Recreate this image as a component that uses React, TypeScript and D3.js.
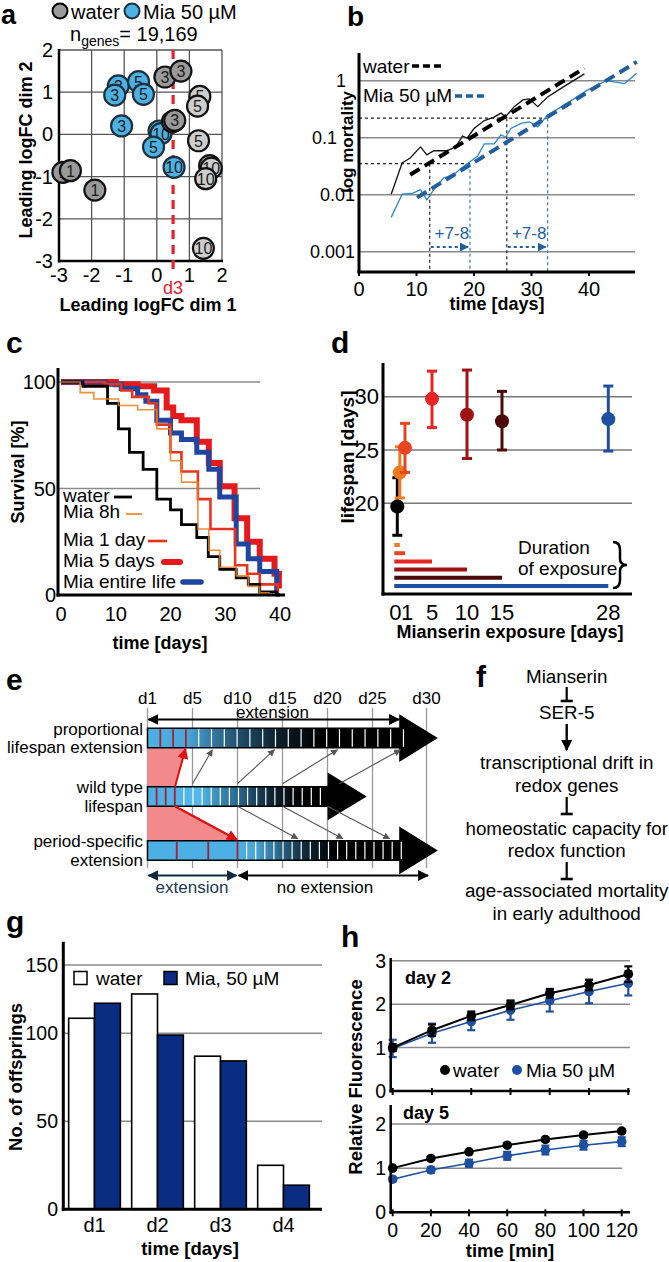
import React, { useEffect, useRef } from "react";
import * as d3 from "d3";

const FF = "'Liberation Sans', Arial, Helvetica, sans-serif";

// ---------- Panel a ----------
const aTicks = [-3, -2, -1, 0, 1, 2];
const aWater = [
  { x: -2.88, y: -0.9, d: 1 }, { x: -2.65, y: -0.86, d: 1 }, { x: -1.9, y: -1.32, d: 1 },
  { x: 0.25, y: 1.36, d: 3 }, { x: 0.74, y: 1.5, d: 3 }, { x: 0.48, y: 0.3, d: 3 }, { x: 0.55, y: 0.33, d: 3 },
  { x: 1.32, y: 0.9, d: 5 }, { x: 1.25, y: 0.67, d: 5 }, { x: 1.28, y: -0.15, d: 5 },
  { x: 1.62, y: -0.74, d: 10 }, { x: 1.67, y: -0.8, d: 10 }, { x: 1.5, y: -1.05, d: 10 }, { x: 1.43, y: -2.7, d: 10 },
];
const aMia = [
  { x: -1.18, y: 1.15, d: 3 }, { x: -1.29, y: 0.93, d: 3 }, { x: -1.08, y: 0.2, d: 3 },
  { x: -0.56, y: 1.25, d: 5 }, { x: -0.41, y: 0.95, d: 5 },
  { x: 0.07, y: 0.08, d: 10 }, { x: 0.13, y: 0.02, d: 10 }, { x: -0.1, y: -0.3, d: 5 },
  { x: 0.53, y: -0.78, d: 10 },
];

// ---------- Panel b ----------
const bXTicks = [0, 10, 20, 30, 40];
const bYTicks = [1, 0.1, 0.01, 0.001];
const bYTickLabels = ["1", "0.1", "0.01", "0.001"];
const bWater = [[5.6, 0.0102], [7.5, 0.036], [8.9, 0.044], [10.7, 0.069], [11.8, 0.05], [13, 0.059], [15.3, 0.059], [16.8, 0.069], [18, 0.107], [18.8, 0.098], [20, 0.145], [21.8, 0.2], [23.5, 0.23], [24.7, 0.27], [25.5, 0.234], [27, 0.35], [28.5, 0.46], [29.6, 0.48], [31.1, 0.35], [32.8, 0.52], [35.2, 0.74], [39.2, 1.32]];
const bMia = [[5.6, 0.004], [7.5, 0.0102], [9.2, 0.0105], [10.7, 0.0123], [11.8, 0.0081], [13, 0.0123], [14.7, 0.0195], [16.5, 0.0224], [17.4, 0.027], [18.8, 0.035], [20.6, 0.047], [21.8, 0.078], [23.5, 0.078], [24.7, 0.112], [25.5, 0.102], [26.4, 0.145], [28.2, 0.178], [29.6, 0.19], [31.1, 0.155], [32.8, 0.25], [34.6, 0.32], [37.5, 0.49], [39.8, 0.69], [43, 1.0], [46.2, 0.89], [48.3, 1.35]];
const bWaterFit = [[8.9, 0.0224], [39.2, 1.66]];
const bMiaFit = [[10.1, 0.0089], [48.3, 2.14]];
const bRefLevels = [0.035, 0.22];
const bRefWaterDays = [12.3, 25.7];
const bRefMiaDays = [19.3, 32.8];
const bShiftLabel = "+7-8";

// ---------- Panel c ----------
const cXTicks = [0, 10, 20, 30, 40];
const cYTicks = [0, 50, 100];
const cWater = [[0, 100], [4, 98], [8.5, 90], [10.5, 78], [12.5, 67], [15, 59], [17.5, 45], [20, 40], [22, 33], [24.8, 27], [26.9, 18], [29, 12], [32, 8], [34.2, 5], [36.3, 1.5], [39.4, 0], [40, 0]];
const cMia8h = [[0, 100], [3.5, 95], [6, 92], [10.5, 89], [14, 87], [17.5, 78], [20, 63], [22, 53], [25, 31], [27, 21], [29, 13], [32, 9], [34.2, 4], [36.3, 1], [38, 0], [39.4, 0]];
const cMia1d = [[0, 100], [8, 99], [11, 96], [13, 93], [16, 90], [17.5, 80], [20, 67], [22, 58], [25, 45], [27.3, 31], [31.8, 14], [34, 10], [36.3, 5], [39.6, 0], [39.8, 0]];
const cMia5d = [[0, 100], [10, 99], [14, 98], [17, 96], [19.3, 88], [20.5, 84], [22, 82], [24.8, 72], [27, 62], [29, 51], [31.7, 36], [34, 25], [36.3, 17], [39, 10], [39.8, 3], [39.8, 3]];
const cMiaLife = [[0, 100], [8, 99], [11, 97], [14, 94], [15.5, 91], [17.5, 82], [20, 76], [22, 73], [24.8, 67], [27, 59], [29, 46], [32, 24], [34.2, 17], [36.3, 11], [39.4, 3], [39.6, 3]];
const cLegend = ["water", "Mia 8h", "Mia 1 day", "Mia 5 days", "Mia entire life"];

// ---------- Panel d ----------
const dGroups = ["water", "8h", "1d", "5d", "10d", "15d", "life"];
const dExposure = [0, 0.33, 1, 5, 10, 15, 28];
const dMean = [19.7, 22.9, 25.2, 29.8, 28.3, 27.7, 27.9];
const dLow = [17.0, 20.5, 22.9, 27.1, 24.2, 25.0, 24.9];
const dHigh = [22.4, 25.3, 27.5, 32.4, 32.5, 30.5, 31.0];
const dXTicks = [0, 1, 5, 10, 15, 28];
const dYTicks = [20, 25, 30];

// ---------- Panel e ----------
const eTickLabels = ["d1", "d5", "d10", "d15", "d20", "d25", "d30"];
const eTickUnits = [0, 5, 10, 15, 20, 25, 31];
const eRowLabels = [["proportional", "lifespan extension"], ["wild type", "lifespan"], ["period-specific", "extension"]];

// ---------- Panel f ----------
const fSteps = [["Mianserin"], ["SER-5"], ["transcriptional drift in", "redox genes"], ["homeostatic capacity for", "redox function"], ["age-associated mortality", "in early adulthood"]];

// ---------- Panel g ----------
const gDays = ["d1", "d2", "d3", "d4"];
const gWater = [111, 128.8, 87, 25];
const gMia = [122, 99, 84.3, 13.7];
const gYTicks = [0, 50, 100, 150];

// ---------- Panel h ----------
const hTimes = [0, 20, 40, 60, 80, 100, 120];
const hD2Water = [1.0, 1.40, 1.73, 1.98, 2.25, 2.44, 2.69];
const hD2WaterErr = [0.08, 0.13, 0.1, 0.1, 0.1, 0.12, 0.18];
const hD2Mia = [0.98, 1.33, 1.6, 1.86, 2.08, 2.29, 2.48];
const hD2MiaErr = [0.2, 0.22, 0.2, 0.22, 0.25, 0.27, 0.28];
const hD5Water = [1.0, 1.22, 1.37, 1.52, 1.65, 1.75, 1.84];
const hD5WaterErr = [0.03, 0.03, 0.03, 0.04, 0.04, 0.04, 0.04];
const hD5Mia = [0.75, 0.96, 1.11, 1.28, 1.41, 1.52, 1.6];
const hD5MiaErr = [0.05, 0.06, 0.08, 0.09, 0.1, 0.1, 0.1];

function T(g: any, x: number, y: number, s: string, o: any = {}) {
  const t = g.append("text").attr("x", x).attr("y", y).text(s)
    .attr("font-family", FF).attr("font-size", o.size ?? 19)
    .attr("font-weight", o.bold ? "bold" : "normal")
    .attr("text-anchor", o.anchor ?? "middle")
    .attr("dominant-baseline", o.base ?? "central")
    .attr("fill", o.fill ?? "#000");
  if (o.rotate) t.attr("transform", `rotate(${o.rotate},${x},${y})`);
  return t;
}
function P(g: any, x: number, y: number, s: string, size = 30) {
  return T(g, x, y, s, { size, bold: true, anchor: "start", base: "alphabetic" });
}
function L(g: any, x1: number, y1: number, x2: number, y2: number, stroke = "#000", w = 1, dash?: string, cap = "butt") {
  const l = g.append("line").attr("x1", x1).attr("y1", y1).attr("x2", x2).attr("y2", y2)
    .attr("stroke", stroke).attr("stroke-width", w).attr("stroke-linecap", cap);
  if (dash) l.attr("stroke-dasharray", dash);
  return l;
}

export default function App() {
  const ref = useRef<SVGSVGElement>(null);
  useEffect(() => {
    const svg = d3.select(ref.current);
    svg.selectAll("*").remove();
    const defs = svg.append("defs");
    const mk = (id: string, color: string, size: number) => {
      defs.append("marker").attr("id", id).attr("viewBox", "0 0 10 10").attr("refX", 9).attr("refY", 5)
        .attr("markerWidth", size).attr("markerHeight", size).attr("markerUnits", "userSpaceOnUse")
        .attr("orient", "auto-start-reverse")
        .append("path").attr("d", "M0,0 L10,5 L0,10 z").attr("fill", color);
    };
    mk("arK", "#000", 11);
    mk("arG", "#555", 7);
    mk("arR", "#e01010", 11);
    mk("arB", "#1f5fa0", 9);
    mk("arN", "#0e2a40", 11);

    const grey = "#8a8a8a";

    // ================= Panel a =================
    {
      const g = svg.append("g");
      const x = d3.scaleLinear().domain([-3, 2]).range([59, 222]);
      const y = d3.scaleLinear().domain([-3, 2]).range([261, 50]);
      P(g, 1, 24, "a", 27);
      g.append("circle").attr("cx", 60).attr("cy", 11).attr("r", 7.5).attr("fill", "#9a9a9a").attr("stroke", "#000").attr("stroke-width", 2);
      T(g, 71, 12, "water", { size: 20, anchor: "start" });
      g.append("circle").attr("cx", 132).attr("cy", 11).attr("r", 7.5).attr("fill", "#4cb2e4").attr("stroke", "#1b2f3d").attr("stroke-width", 2);
      T(g, 143, 12, "Mia 50 µM", { size: 20, anchor: "start" });
      const nt = g.append("text").attr("x", 70).attr("y", 41).attr("font-family", FF).attr("font-size", 20);
      nt.append("tspan").text("n");
      nt.append("tspan").attr("font-size", 14).attr("dy", 5).text("genes");
      nt.append("tspan").attr("dy", -5).text("= 19,169");
      aTicks.forEach(v => {
        L(g, x(v), y(-3), x(v), y(2), "#555", 1.3);
        L(g, x(-3), y(v), x(2), y(v), "#555", 1.3);
        T(g, x(v), 275, String(v), { size: 20 });
        T(g, 53, y(v), String(v), { size: 20, anchor: "end" });
      });
      L(g, x(-3), y(-3) + 1.5, x(-3), y(2) - 1, "#000", 2.5);
      L(g, x(-3) - 1, y(-3), x(2) + 1, y(-3), "#000", 2.5);
      L(g, x(0.5), 50, x(0.5), 275, "#e8202a", 3.2, "9,6");
      T(g, x(0.5), 288, "d3", { size: 18, fill: "#e8202a" });
      T(g, 148, 305, "Leading logFC dim 1", { size: 18, bold: true });
      T(g, 26, 150, "Leading logFC dim 2", { size: 18, bold: true, rotate: -90 });
      const drawPts = (pts: any[], water: boolean) => {
        pts.forEach(p => {
          const fill = water ? (p.d <= 3 ? "#9a9a9a" : "#cdcdcd") : "#4cb2e4";
          g.append("circle").attr("cx", x(p.x)).attr("cy", y(p.y)).attr("r", 10.5)
            .attr("fill", fill).attr("stroke", water ? "#111" : "#1b2f3d").attr("stroke-width", 2.2);
          T(g, x(p.x), y(p.y) + 0.5, String(p.d), { size: 16, fill: "#1a1a1a" });
        });
      };
      drawPts(aWater.slice(0, 3), true);
      drawPts(aMia, false);
      drawPts(aWater.slice(3), true);
    }

    // ================= Panel b =================
    {
      const g = svg.append("g");
      const x = d3.scaleLinear().domain([0, 48]).range([359, 635]);
      const y = d3.scaleLog().domain([0.001, 1]).range([251.7, 80.7]);
      P(g, 347, 26, "b", 28);
      const labelEnd = [346, 337, 355, 355];
      bYTicks.forEach((v, i) => {
        L(g, 359, y(v), 635, y(v), grey, 1.5);
        T(g, labelEnd[i], y(v), bYTickLabels[i], { size: 18, anchor: "end" });
      });
      bXTicks.forEach(v => {
        T(g, x(v), 289, String(v), { size: 20 });
        L(g, x(v), 272, x(v), 276, "#000", 2);
      });
      L(g, 359, y(bRefLevels[0]), x(bRefMiaDays[0]), y(bRefLevels[0]), "#222", 1.2, "3,3");
      L(g, 359, y(bRefLevels[1]), x(bRefMiaDays[1]), y(bRefLevels[1]), "#222", 1.2, "3,3");
      bRefLevels.forEach((lv, i) => {
        L(g, x(bRefWaterDays[i]), y(lv), x(bRefWaterDays[i]), 272, "#222", 1.2, "3,3");
        L(g, x(bRefMiaDays[i]), y(lv), x(bRefMiaDays[i]), 272, "#2e7fc0", 1.2, "3,3");
        const cx = (x(bRefWaterDays[i]) + x(bRefMiaDays[i])) / 2;
        T(g, cx + 2, 233, bShiftLabel, { size: 17, fill: "#1f5fa0" });
        L(g, x(bRefWaterDays[i]) + 1, 247, x(bRefMiaDays[i]) - 2, 247, "#1f5fa0", 1.8, "3,3")
          .attr("marker-end", "url(#arB)");
      });
      const line = d3.line<number[]>().x(d => x(d[0])).y(d => y(d[1]));
      g.append("path").attr("d", line(bWater as any)).attr("fill", "none").attr("stroke", "#111").attr("stroke-width", 1.3);
      g.append("path").attr("d", line(bMia as any)).attr("fill", "none").attr("stroke", "#2e86c8").attr("stroke-width", 1.3);
      g.append("path").attr("d", line(bWaterFit as any)).attr("fill", "none").attr("stroke", "#000").attr("stroke-width", 4).attr("stroke-dasharray", "11,6");
      g.append("path").attr("d", line(bMiaFit as any)).attr("fill", "none").attr("stroke", "#1f5fa0").attr("stroke-width", 4).attr("stroke-dasharray", "11,6");
      L(g, 359, 53, 359, 273.5, "#000", 3);
      L(g, 357.5, 272, 635, 272, "#000", 3);
      T(g, 363, 66, "water", { size: 19, anchor: "start" });
      L(g, 412, 66, 442, 66, "#000", 3.5, "7,4");
      T(g, 363, 95, "Mia 50 µM", { size: 19, anchor: "start" });
      L(g, 455, 96, 487, 96, "#1f5fa0", 3.5, "7,4");
      T(g, 347, 142, "log mortality", { size: 17, bold: true, rotate: -90 });
      T(g, 497, 304, "time [days]", { size: 18, bold: true });
    }

    // ================= Panel c =================
    {
      const g = svg.append("g");
      const x = d3.scaleLinear().domain([0, 40]).range([61, 280]);
      const y = d3.scaleLinear().domain([0, 100]).range([595, 382]);
      P(g, 6, 353, "c");
      [50, 100].forEach(v => L(g, 58, y(v), 260, y(v), grey, 1.5));
      cYTicks.forEach(v => T(g, 56, y(v), String(v), { size: 20, anchor: "end" }));
      cXTicks.forEach(v => T(g, x(v), 614, String(v), { size: 20 }));
      const line = d3.line<number[]>().x(d => x(d[0])).y(d => y(d[1])).curve(d3.curveStepAfter);
      const path = (data: number[][], color: string, w: number, op = 1) =>
        g.append("path").attr("d", line(data as any)).attr("fill", "none").attr("stroke", color)
          .attr("stroke-width", w).attr("stroke-opacity", op).attr("stroke-linejoin", "miter");
      path(cMia5d, "#e41a1c", 6);
      path(cMiaLife, "#1f45a0", 5);
      path(cMia1d, "#e8341c", 2.6);
      path(cWater, "#000", 2.8);
      path(cMia8h, "#f07a1a", 1.6, 0.85);
      L(g, 58, 368, 58, 596.5, "#000", 3);
      L(g, 56.5, 595, 285, 595, "#000", 3);
      const ly = [495, 511, 539, 560, 581];
      cLegend.forEach((s, i) => T(g, 63, ly[i], s, { size: 19, anchor: "start" }));
      L(g, 114, 497, 132, 497, "#000", 2.8);
      L(g, 126, 514, 142, 514, "#f07a1a", 1.6);
      L(g, 148, 541, 167, 541, "#e8341c", 2.6);
      L(g, 164, 562, 180, 562, "#e41a1c", 6, undefined, "round");
      L(g, 183, 582, 201, 582, "#1f45a0", 5.5, undefined, "round");
      T(g, 18, 472, "Survival [%]", { size: 18, bold: true, rotate: -90 });
      T(g, 160, 643, "time [days]", { size: 18, bold: true });
    }

    // ================= Panel d =================
    {
      const g = svg.append("g");
      const x = d3.scaleLinear().domain([0, 1, 5, 10, 15, 28]).range([397.3, 405, 432, 467, 502, 608.3]);
      const y = d3.scaleLinear().domain([20, 30]).range([503.3, 396.7]);
      const colors = ["#000", "#f07a20", "#e84420", "#e82424", "#a01212", "#4e0a0a", "#1f50a0"];
      P(g, 331, 353, "d");
      dYTicks.forEach(v => {
        L(g, 383, y(v), 632, y(v), "#777", 1.5);
        T(g, 379, y(v), String(v), { size: 22, anchor: "end" });
      });
      dXTicks.forEach(v => T(g, x(v) + (v === 0 ? -2 : v === 1 ? 2 : 0), 612, String(v), { size: 22 }));
      dGroups.forEach((k, i) => {
        const cx = x(dExposure[i]);
        const c = colors[i];
        L(g, cx, y(dLow[i]), cx, y(dHigh[i]), c, 3);
        L(g, cx - 5, y(dLow[i]), cx + 5, y(dLow[i]), c, 3);
        L(g, cx - 5, y(dHigh[i]), cx + 5, y(dHigh[i]), c, 3);
        g.append("circle").attr("cx", cx).attr("cy", y(dMean[i])).attr("r", 7).attr("fill", c);
      });
      const rows = d3.scalePoint().domain(dGroups.slice(1)).range([545, 586]);
      dGroups.slice(1).forEach((k, j) => {
        const i = j + 1;
        L(g, x(0) - 3, rows(k)!, x(dExposure[i]), rows(k)!, colors[i], 4);
      });
      L(g, 383, 363, 383, 595.5, "#000", 3);
      L(g, 381.5, 594, 632, 594, "#000", 3);
      T(g, 518, 547, "Duration", { size: 19, anchor: "start" });
      T(g, 518, 568, "of exposure", { size: 19, anchor: "start" });
      g.append("path").attr("d", "M613,542 Q620,542 620,550 L620,559 Q620,565 627,565 Q620,565 620,571 L620,580 Q620,588 613,588")
        .attr("fill", "none").attr("stroke", "#000").attr("stroke-width", 2.5);
      T(g, 347, 457, "lifespan [days]", { size: 19, bold: true, rotate: -90 });
      T(g, 510, 632, "Mianserin exposure [days]", { size: 18, bold: true });
    }

    // ================= Panel e =================
    {
      const g = svg.append("g");
      const x = d3.scaleLinear().domain([0, 30]).range([147.5, 417.5]);
      P(g, 6, 690, "e");
      eTickLabels.forEach((s, i) => {
        T(g, x(eTickUnits[i]), 698, s, { size: 17 });
        L(g, x(eTickUnits[i]), 708, x(eTickUnits[i]), 868, "#9a9a9a", 1.3);
      });
      const rowY = [728.3, 786.7, 840.7];
      const bh = 19.5;
      eRowLabels.forEach((ls, i) => {
        T(g, 143, rowY[i] + 1, ls[0], { size: 17, anchor: "end" });
        T(g, 143, rowY[i] + bh, ls[1], { size: 17, anchor: "end" });
      });
      const grad = (id: string, stops: [number, string][]) => {
        const gr = defs.append("linearGradient").attr("id", id).attr("gradientUnits", "userSpaceOnUse")
          .attr("x1", 147).attr("x2", 440).attr("y1", 0).attr("y2", 0);
        stops.forEach(([px, c]) => gr.append("stop").attr("offset", (px - 147) / 293).attr("stop-color", c));
      };
      grad("gTop", [[147, "#4cb0e4"], [186, "#4aa8da"], [205, "#3a86b0"], [240, "#1f4d68"], [280, "#0c1e2a"], [320, "#000"]]);
      grad("gMid", [[147, "#4cb0e4"], [200, "#56b8e8"], [215, "#3f93c0"], [245, "#24597a"], [270, "#0e2535"], [300, "#000"]]);
      grad("gBot", [[147, "#4cb0e4"], [240, "#4cb0e4"], [255, "#49a6d8"], [280, "#2a6686"], [305, "#10293a"], [335, "#000"]]);

      const pink = [[0, rowY[0] + bh], [x.invert(185.5), rowY[0] + bh], [x.invert(175), rowY[1]], [x.invert(175), rowY[1] + bh], [10, rowY[2]], [0, rowY[2]]];
      g.append("path").attr("d", d3.line<number[]>().x(d => x(d[0])).y(d => d[1])(pink as any) + "Z").attr("fill", "#f28a8c");

      const bar = (i: number, endU: number, tipU: number, fill: string) => {
        const y0 = rowY[i];
        const cy = y0 + bh / 2;
        g.append("path").attr("d",
          `M${x(0)},${y0} L${x(endU)},${y0} L${x(endU)},${cy - 22.5} L${x(tipU)},${cy} L${x(endU)},${cy + 22.5} L${x(endU)},${y0 + bh} L${x(0)},${y0 + bh} Z`)
          .attr("fill", fill).attr("stroke", "#000").attr("stroke-width", 1.5);
      };
      bar(0, 28.05, 32.1, "url(#gTop)");
      bar(1, 20.1, 24.2, "url(#gMid)");
      bar(2, 28.05, 32.1, "url(#gBot)");
      const div = (i: number, u: number, red: boolean) =>
        L(g, x(u), rowY[i] + 1, x(u), rowY[i] + bh - 1, red ? "#a82030" : "#ffffff", red ? 1.8 : 1.2);
      for (let k = 1; k <= 20; k++) div(0, k * 1.422, k <= 3);
      for (let k = 1; k <= 19; k++) div(1, k * 1.011, k <= 3);
      [3.25, 6.75, 10].forEach(u => div(2, u, true));
      for (let k = 1; k <= 18; k++) div(2, 10 + k * 1.011, false);
      L(g, 175, rowY[1], 185.5, rowY[0] + bh + 1, "#e01010", 2).attr("marker-end", "url(#arR)");
      L(g, 175, rowY[1] + bh, 237, rowY[2] - 1, "#e01010", 2.4).attr("marker-end", "url(#arR)");
      [[5, 7.2], [10, 14.1], [15, 21.1], [21.3, 28.1]].forEach(([a, b]) =>
        L(g, x(a), rowY[1] - 3, x(b), rowY[0] + bh + 2, "#555", 1.1).attr("marker-end", "url(#arG)"));
      [[10, 16.7], [15, 21.7], [20, 26.9]].forEach(([a, b]) =>
        L(g, x(a), rowY[1] + bh, x(b), rowY[2] - 2, "#555", 1.1).attr("marker-end", "url(#arG)"));
      L(g, x(0) + 1, 719.5, x(28.05) - 1, 719.5, "#000", 2).attr("marker-start", "url(#arK)").attr("marker-end", "url(#arK)");
      T(g, 272.5, 712, "extension", { size: 17 });
      L(g, x(0) + 1, 875.5, x(10) - 1, 875.5, "#0e2a40", 2).attr("marker-start", "url(#arN)").attr("marker-end", "url(#arN)");
      T(g, 192, 887, "extension", { size: 17, fill: "#1a3a55" });
      L(g, x(10) + 1, 875.5, 428, 875.5, "#000", 2).attr("marker-start", "url(#arK)").attr("marker-end", "url(#arK)");
      T(g, 325, 887, "no extension", { size: 17 });
    }

    // ================= Panel f =================
    {
      const g = svg.append("g");
      P(g, 476, 687, "f");
      const cx = 566.7;
      const ys = [[676], [712.7], [762.7, 785], [828.3, 850], [890, 913.3]];
      fSteps.forEach((ls, i) => ls.forEach((s, j) => T(g, cx, ys[i][j], s, { size: 18.8 })));
      const tbar = (y1: number, y2: number) => {
        L(g, cx, y1, cx, y2, "#000", 2.2);
        L(g, cx - 6, y2, cx + 6, y2, "#000", 2.6);
      };
      tbar(687, 701);
      L(g, cx, 724, cx, 750, "#000", 2.4).attr("marker-end", "url(#arK)");
      tbar(797, 814);
      tbar(862, 879);
    }

    // ================= Panel g =================
    {
      const g = svg.append("g");
      const x = d3.scaleBand().domain(gDays).range([63, 315]).paddingInner(0.18).paddingOuter(0.09);
      const y = d3.scaleLinear().domain([0, 100, 150]).range([1209.3, 1033.3, 965]);
      P(g, 6, 932, "g");
      [50, 100, 150].forEach(v => L(g, 63, y(v), 322, y(v), grey, 1.5));
      gYTicks.forEach(v => T(g, 58, y(v), String(v), { size: 19.5, anchor: "end" }));
      const bw = x.bandwidth() / 2;
      gDays.forEach((d, i) => {
        g.append("rect").attr("x", x(d)!).attr("y", y(gWater[i])).attr("width", bw).attr("height", y(0) - y(gWater[i]))
          .attr("fill", "#fff").attr("stroke", "#000").attr("stroke-width", 1.6);
        g.append("rect").attr("x", x(d)! + bw).attr("y", y(gMia[i])).attr("width", bw).attr("height", y(0) - y(gMia[i]))
          .attr("fill", "#0a2d82").attr("stroke", "#000").attr("stroke-width", 1.6);
        T(g, x(d)! + bw, 1225, d, { size: 20 });
      });
      L(g, 63.3, 941.7, 63.3, 1210.8, "#000", 3);
      L(g, 61.8, 1209.3, 322, 1209.3, "#000", 3);
      g.append("rect").attr("x", 74).attr("y", 971.5).attr("width", 13).attr("height", 13).attr("fill", "#fff").attr("stroke", "#000").attr("stroke-width", 1.5);
      T(g, 96, 978, "water", { size: 19, anchor: "start" });
      g.append("rect").attr("x", 164).attr("y", 971.5).attr("width", 13).attr("height", 13).attr("fill", "#0a2d82").attr("stroke", "#000").attr("stroke-width", 1.5);
      T(g, 185, 978, "Mia, 50 µM", { size: 19, anchor: "start" });
      T(g, 15, 1077, "No. of offsprings", { size: 18.5, bold: true, rotate: -90 });
      T(g, 190, 1248, "time [days]", { size: 18.5, bold: true });
    }

    // ================= Panel h =================
    {
      const g = svg.append("g");
      P(g, 341, 947, "h");
      const x2 = d3.scaleLinear().domain([0, 120]).range([392.7, 628.3]);
      const x5 = d3.scaleLinear().domain([0, 120]).range([392.7, 621.7]);
      const y2 = d3.scaleLinear().domain([0, 3]).range([1091, 960.7]);
      const y5 = d3.scaleLinear().domain([0, 2]).range([1212.3, 1124]);
      const blue = "#1f4fa0";
      const sub = (x: any, y: any, ticks: number[], gridEnd: number, top: number, series: [number[], number[], string][]) => {
        ticks.filter(v => v > 0).forEach(v => L(g, 390.7, y(v), gridEnd, y(v), grey, 1.5));
        ticks.forEach(v => T(g, 386, y(v), String(v), { size: 19.5, anchor: "end" }));
        hTimes.forEach(t => L(g, x(t), y(0) - 3, x(t), y(0) + 4, "#000", 2));
        series.forEach(([vals, errs, c]) => {
          const line = d3.line<number>().x((d, i) => x(hTimes[i])).y(d => y(d));
          g.append("path").attr("d", line(vals)).attr("fill", "none").attr("stroke", c).attr("stroke-width", c === "#000" ? 2 : 1.6);
          vals.forEach((v, i) => {
            const cx = x(hTimes[i]);
            L(g, cx, y(v - errs[i]), cx, y(v + errs[i]), c, 2.2);
            L(g, cx - 4, y(v - errs[i]), cx + 4, y(v - errs[i]), c, 2.2);
            L(g, cx - 4, y(v + errs[i]), cx + 4, y(v + errs[i]), c, 2.2);
            g.append("circle").attr("cx", cx).attr("cy", y(v)).attr("r", 4.8).attr("fill", c);
          });
        });
        L(g, 390.7, top, 390.7, y(0) + 1.5, "#000", 2.5);
        L(g, 389.5, y(0), 630, y(0), "#000", 2.5);
      };
      sub(x2, y2, [0, 1, 2, 3], 630, 958, [[hD2Mia, hD2MiaErr, blue], [hD2Water, hD2WaterErr, "#000"]]);
      sub(x5, y5, [0, 1, 2], 622, 1105, [[hD5Mia, hD5MiaErr, blue], [hD5Water, hD5WaterErr, "#000"]]);
      hTimes.forEach(t => T(g, x5(t), 1230, String(t), { size: 19.5 }));
      T(g, 405, 978, "day 2", { size: 18, bold: true, anchor: "start" });
      T(g, 403, 1113, "day 5", { size: 18, bold: true, anchor: "start" });
      g.append("circle").attr("cx", 445).attr("cy", 1070).attr("r", 5).attr("fill", "#000");
      T(g, 453, 1070, "water", { size: 19, anchor: "start" });
      g.append("circle").attr("cx", 517).attr("cy", 1070).attr("r", 5).attr("fill", blue);
      T(g, 526, 1070, "Mia 50 µM", { size: 19, anchor: "start" });
      T(g, 355, 1077, "Relative Fluorescence", { size: 18.5, bold: true, rotate: -90 });
      T(g, 510, 1250, "time [min]", { size: 18.5, bold: true });
    }
  }, []);
  return (
    <div style={{ position: "absolute", left: 0, top: 0, width: 669, height: 1262, background: "#fff" }}>
      <svg ref={ref} width={669} height={1262} style={{ display: "block" }} />
    </div>
  );
}
